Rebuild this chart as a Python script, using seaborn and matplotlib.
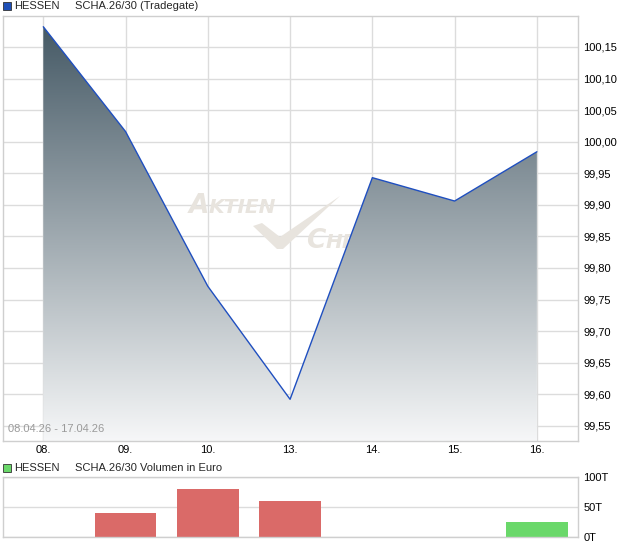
import matplotlib
matplotlib.use("Agg")
import matplotlib.pyplot as plt
import numpy as np
import pandas as pd
import seaborn as sns
from matplotlib.colors import LinearSegmentedColormap
from matplotlib.patches import Rectangle, Polygon
from matplotlib.ticker import FuncFormatter

# chart data
days = ["08.", "09.", "10.", "13.", "14.", "15.", "16."]
prices = [100.182, 100.016, 99.771, 99.592, 99.943, 99.906, 99.984]
volumes_t = [0, 39.5, 80.5, 60, 0, 0, 25.5]  # thousand euro
vol_dir = ["none", "down", "down", "down", "none", "none", "up"]
price_ticks = [99.55, 99.60, 99.65, 99.70, 99.75, 99.80, 99.85, 99.90,
               99.95, 100.00, 100.05, 100.10, 100.15]
vol_ticks = [0, 50, 100]
date_range = "08.04.26 - 17.04.26"

sns.set_style("white")
plt.rcParams["font.family"] = ["Liberation Sans", "DejaVu Sans"]

W, H = 620, 546
fig = plt.figure(figsize=(W / 100, H / 100), dpi=100)

def ax_rect(left, top, right, bottom):
    return [left / W, 1 - bottom / H, (right - left) / W, (bottom - top) / H]

grid_c = "#dcdcdc"
spine_c = "#cfcfcf"
line_c = "#1f4fc0"

# ---- price panel
ax = fig.add_axes(ax_rect(3, 16, 578, 441))
x = np.arange(len(days))
ymin, ymax = 99.526, 100.199

ax.set_axisbelow(True)
ax.grid(True, color=grid_c, linewidth=1.0)
for s in ax.spines.values():
    s.set_color(spine_c)
    s.set_linewidth(1.0)

# watermark (behind the area)
def px(xp, yp):
    return ((xp - 3) / 575, (441 - yp) / 425)

wm = "#e8e4de"
wm_kw = dict(transform=ax.transAxes, style="italic", fontweight="bold", color=wm,
             zorder=0.8, fontfamily="DejaVu Sans")
ax.text(*px(189, 213), "A", fontsize=19, **wm_kw)
ax.text(*px(209, 213), "KTIEN", fontsize=14.5, **wm_kw)
ax.text(*px(306, 248), "C", fontsize=19, **wm_kw)
ax.text(*px(326, 248), "HECK", fontsize=14.5, **wm_kw)
check = [px(253, 226), px(262, 223), px(280, 237), px(340, 196), px(283, 249), px(277, 249)]
ax.add_patch(Polygon(check, closed=True, transform=ax.transAxes, color=wm,
                     zorder=0.8, linewidth=0))

# gradient area under the line
poly = ax.fill_between(x, prices, ymin, color="none", linewidth=0)
cmap = LinearSegmentedColormap.from_list("area", ["#f6f7f8", "#465a66"])
grad = np.linspace(0, 1, 256).reshape(-1, 1)
im = ax.imshow(grad, extent=[x[0], x[-1], ymin, max(prices)], origin="lower",
               aspect="auto", cmap=cmap, zorder=1)
im.set_clip_path(poly.get_paths()[0], ax.transData)

sns.lineplot(x=x, y=prices, ax=ax, color=line_c, linewidth=1.0, zorder=3)

ax.set_xlim(-0.49, len(days) - 0.5)
ax.set_ylim(ymin, ymax)
ax.set_xticks(x)
ax.set_xticklabels(days)
ax.set_yticks(price_ticks)
ax.yaxis.set_major_formatter(FuncFormatter(lambda v, p: f"{v:.2f}".replace(".", ",")))
ax.yaxis.tick_right()
ax.tick_params(axis="both", length=0, labelsize=8, colors="black")
ax.tick_params(axis="y", pad=4)
ax.tick_params(axis="x", pad=3)
ax.set_xlabel("")
ax.set_ylabel("")

ax.text(5 / 575, 7 / 425, date_range, transform=ax.transAxes, fontsize=8,
        color="#9a9a9a", va="bottom", ha="left")

# legend row above price panel
fig.patches.append(Rectangle((3 / W, 1 - 10 / H), 8 / W, 8 / H, transform=fig.transFigure,
                             facecolor="#1f50b8", edgecolor="#333333", linewidth=0.6))
fig.text(14 / W, 1 - 6 / H, "HESSEN", fontsize=8, va="center")
fig.text(75 / W, 1 - 6 / H, "SCHA.26/30 (Tradegate)", fontsize=8, va="center")

# ---- volume panel
axv = fig.add_axes(ax_rect(3, 477, 578, 537))
axv.set_axisbelow(True)
axv.grid(True, color=grid_c, linewidth=1.0)
for s in axv.spines.values():
    s.set_color(spine_c)
    s.set_linewidth(1.0)

vol_df = pd.DataFrame({"day": days, "vol": volumes_t, "dir": vol_dir})
sns.barplot(data=vol_df, x="day", y="vol", hue="dir", order=days, dodge=False,
            palette={"down": "#da6a68", "up": "#6ad86a", "none": "#ffffff"},
            width=0.75, ax=axv, legend=False, saturation=1, linewidth=0)

axv.set_xlim(-0.49, len(days) - 0.5)
axv.set_ylim(0, 100)
axv.set_yticks(vol_ticks)
axv.set_yticklabels([f"{v}T" for v in vol_ticks])
axv.yaxis.tick_right()
axv.set_xticklabels([])
axv.tick_params(axis="both", length=0, labelsize=8, colors="black")
axv.tick_params(axis="y", pad=4)
axv.set_xlabel("")
axv.set_ylabel("")

fig.patches.append(Rectangle((3 / W, 1 - 472 / H), 8 / W, 8 / H, transform=fig.transFigure,
                             facecolor="#6ad86a", edgecolor="#333333", linewidth=0.6))
fig.text(14 / W, 1 - 468 / H, "HESSEN", fontsize=8, va="center")
fig.text(75 / W, 1 - 468 / H, "SCHA.26/30 Volumen in Euro", fontsize=8, va="center")

fig.savefig("out.png", dpi=100, facecolor="white")
